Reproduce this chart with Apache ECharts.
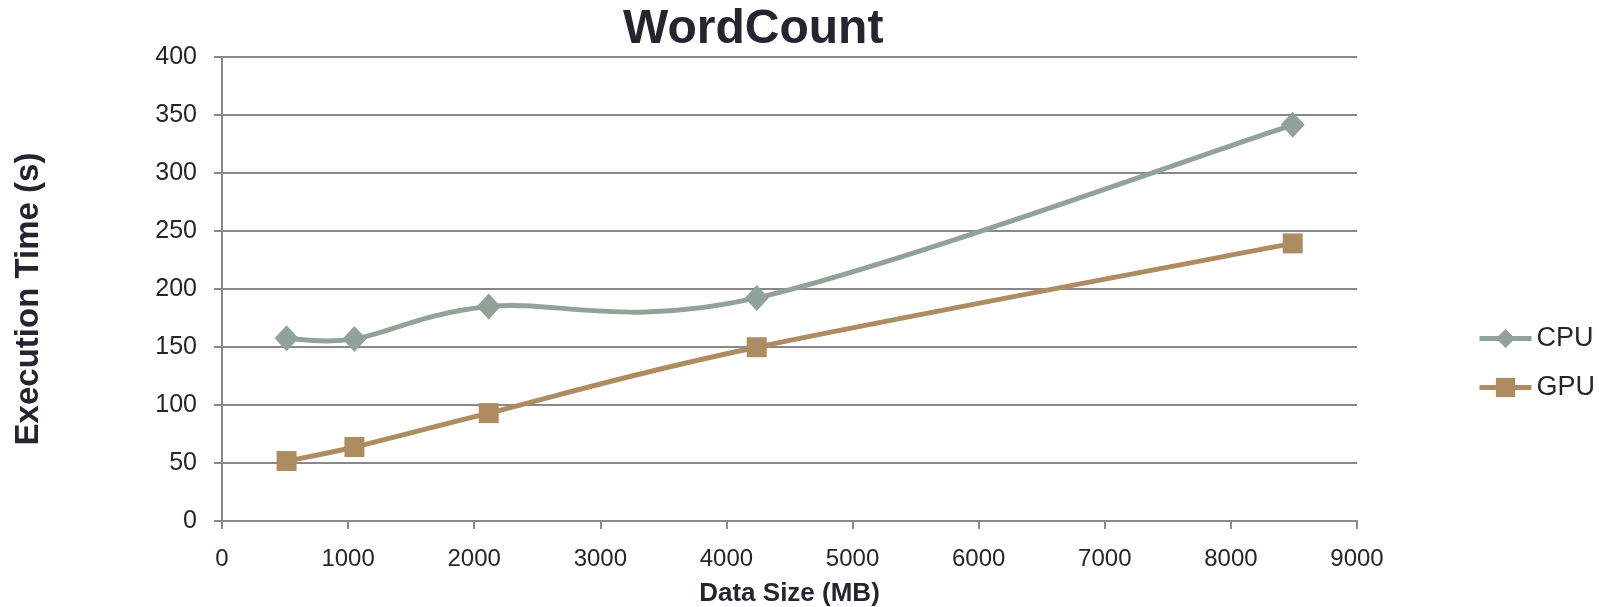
<!DOCTYPE html>
<html>
<head>
<meta charset="utf-8">
<title>WordCount</title>
<script src="https://cdn.jsdelivr.net/npm/echarts@6/dist/echarts.min.js"></script>
<style>
  html, body { margin: 0; padding: 0; background: #fff; }
  #main { width: 1599px; height: 607px; }
</style>
</head>
<body>
<div id="main"></div>
<script>
// data (MB, seconds)
var dataSize = [512, 1050, 2115, 4240, 8490];
var cpuTime = [157.6, 157, 184.9, 192.3, 341.5];
var gpuTime = [51.7, 63.8, 93, 149.8, 239.3];
var xTicks = [0, 1000, 2000, 3000, 4000, 5000, 6000, 7000, 8000, 9000];
var yTicks = [0, 50, 100, 150, 200, 250, 300, 350, 400];

var textColor = '#25252f';
var gridColor = '#898989';
var cpuColor = '#91a398';
var gpuColor = '#ad8c61';
var font = 'Liberation Sans, Arial, sans-serif';

function pairs(xs, ys) {
  return xs.map(function (x, i) { return [x, ys[i]]; });
}

// excel style smoothed line (catmull-rom, tension 1/6) in pixel space
function smoothCurve(xs, ys, color) {
  return function (params, api) {
    if (params.dataIndex !== 0) return;
    var pts = xs.map(function (x, i) { return api.coord([x, ys[i]]); });
    var d = 'M' + pts[0][0] + ' ' + pts[0][1];
    for (var i = 0; i < pts.length - 1; i++) {
      var p0 = pts[i - 1] || pts[i];
      var p1 = pts[i];
      var p2 = pts[i + 1];
      var p3 = pts[i + 2] || pts[i + 1];
      var c1x = p1[0] + (p2[0] - p0[0]) / 6, c1y = p1[1] + (p2[1] - p0[1]) / 6;
      var c2x = p2[0] - (p3[0] - p1[0]) / 6, c2y = p2[1] - (p3[1] - p1[1]) / 6;
      d += ' C' + c1x + ' ' + c1y + ' ' + c2x + ' ' + c2y + ' ' + p2[0] + ' ' + p2[1];
    }
    return {
      type: 'path',
      shape: { pathData: d },
      style: { fill: 'none', stroke: color, lineWidth: 5, lineJoin: 'round', lineCap: 'round' }
    };
  };
}

var chart = echarts.init(document.getElementById('main'));
var option = {
  animation: false,
  title: {
    text: 'WordCount',
    left: 618,
    top: 1,
    textStyle: { fontFamily: font, fontSize: 48, fontWeight: 'bold', color: textColor }
  },
  legend: {
    orient: 'vertical',
    left: 1477,
    top: 325,
    padding: 0,
    itemWidth: 52,
    itemHeight: 24,
    itemGap: 22,
    textStyle: { fontFamily: font, fontSize: 27, color: textColor, lineHeight: 24 },
    data: [
      { name: 'CPU', lineStyle: { color: cpuColor, width: 5, opacity: 1 } },
      { name: 'GPU', lineStyle: { color: gpuColor, width: 5, opacity: 1 } }
    ]
  },
  grid: { left: 222, right: 242, top: 57, bottom: 86, outerBoundsMode: 'none' },
  xAxis: {
    type: 'value',
    min: xTicks[0],
    max: xTicks[xTicks.length - 1],
    interval: 1000,
    name: 'Data Size (MB)',
    nameLocation: 'middle',
    nameGap: 60,
    nameTextStyle: { fontFamily: font, fontSize: 26, fontWeight: 'bold', color: textColor },
    axisLine: { lineStyle: { color: gridColor, width: 2 } },
    axisTick: { show: true, length: 8, lineStyle: { color: gridColor, width: 2 } },
    axisLabel: {
      fontFamily: font, fontSize: 24, color: textColor, margin: 26,
      formatter: function (v) { return String(v); }
    },
    splitLine: { show: false }
  },
  yAxis: {
    type: 'value',
    min: yTicks[0],
    max: yTicks[yTicks.length - 1],
    interval: 50,
    name: 'Execution Time (s)',
    nameLocation: 'middle',
    nameRotate: 90,
    nameGap: 177,
    nameTextStyle: {
      fontFamily: font, fontSize: 33, fontWeight: 'bold', color: textColor,
      padding: [0, 20, 0, 0]
    },
    axisLine: { show: true, lineStyle: { color: gridColor, width: 2 } },
    axisTick: { show: true, length: 8, lineStyle: { color: gridColor, width: 2 } },
    axisLabel: {
      fontFamily: font, fontSize: 25, color: textColor, margin: 25,
      formatter: function (v) { return String(v); }
    },
    splitLine: { show: true, lineStyle: { color: gridColor, width: 2 } }
  },
  series: [
    {
      name: 'cpu-curve',
      type: 'custom',
      data: pairs(dataSize, cpuTime),
      renderItem: smoothCurve(dataSize, cpuTime, cpuColor),
      z: 1,
      silent: true
    },
    {
      name: 'gpu-curve',
      type: 'custom',
      data: pairs(dataSize, gpuTime),
      renderItem: smoothCurve(dataSize, gpuTime, gpuColor),
      z: 1,
      silent: true
    },
    {
      name: 'CPU',
      type: 'line',
      data: pairs(dataSize, cpuTime),
      symbol: 'diamond',
      symbolSize: [24, 26],
      lineStyle: { color: cpuColor, width: 5, opacity: 0 },
      itemStyle: { color: cpuColor },
      z: 3
    },
    {
      name: 'GPU',
      type: 'line',
      data: pairs(dataSize, gpuTime),
      symbol: 'rect',
      symbolSize: 20,
      lineStyle: { color: gpuColor, width: 5, opacity: 0 },
      itemStyle: { color: gpuColor },
      z: 3
    }
  ]
};
chart.setOption(option);
</script>
</body>
</html>
